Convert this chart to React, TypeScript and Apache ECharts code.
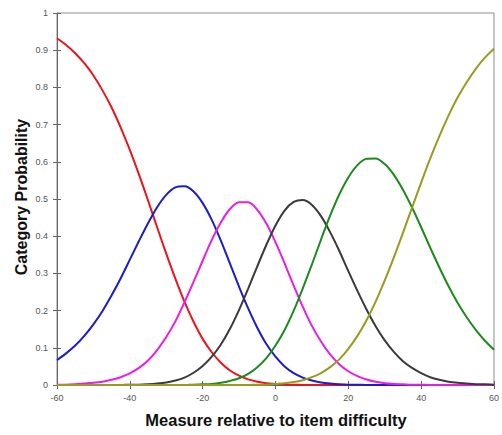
import React, { useEffect, useRef } from "react";
import * as echarts from "echarts";

const xs = [
  -60, -57.5, -55, -52.5, -50, -47.5, -45, -42.5, -40, -37.5, -35, -32.5, -30, -27.5, -25, -22.5, -20, -17.5, -15, -12.5,
  -10, -7.5, -5, -2.5, 0, 2.5, 5, 7.5, 10, 12.5, 15, 17.5, 20, 22.5, 25, 27.5, 30, 32.5, 35, 37.5, 40, 42.5, 45, 47.5,
  50, 52.5, 55, 57.5, 60,
];

const cat0 = [
  0.932, 0.914, 0.892, 0.865, 0.832, 0.792, 0.746, 0.692, 0.632, 0.566, 0.496, 0.424, 0.353, 0.286, 0.224, 0.17, 0.124,
  0.088, 0.06, 0.039, 0.025, 0.015, 0.009, 0.005, 0.003, 0.001, 0.001, 0, 0, 0, 0, 0, 0, 0, 0, 0, 0, 0, 0, 0, 0, 0, 0,
  0, 0, 0, 0, 0, 0,
];
const cat1 = [
  0.067, 0.085, 0.106, 0.132, 0.163, 0.199, 0.241, 0.287, 0.337, 0.387, 0.435, 0.478, 0.511, 0.531, 0.534, 0.52, 0.489,
  0.444, 0.388, 0.326, 0.264, 0.206, 0.154, 0.11, 0.076, 0.05, 0.032, 0.02, 0.012, 0.007, 0.004, 0.002, 0.001, 0.001, 0,
  0, 0, 0, 0, 0, 0, 0, 0, 0, 0, 0, 0, 0, 0,
];
const cat2 = [
  0.001, 0.001, 0.002, 0.004, 0.006, 0.009, 0.014, 0.021, 0.031, 0.046, 0.066, 0.094, 0.129, 0.171, 0.222, 0.277, 0.334,
  0.39, 0.437, 0.473, 0.491, 0.491, 0.471, 0.434, 0.384, 0.327, 0.267, 0.21, 0.159, 0.117, 0.082, 0.056, 0.037, 0.024,
  0.015, 0.009, 0.005, 0.003, 0.002, 0.001, 0.001, 0, 0, 0, 0, 0, 0, 0, 0,
];
const cat3 = [
  0, 0, 0, 0, 0, 0, 0, 0, 0.001, 0.001, 0.002, 0.004, 0.007, 0.012, 0.02, 0.033, 0.051, 0.076, 0.109, 0.151, 0.202,
  0.259, 0.319, 0.377, 0.429, 0.469, 0.492, 0.497, 0.484, 0.454, 0.411, 0.361, 0.306, 0.253, 0.203, 0.158, 0.12, 0.089,
  0.064, 0.046, 0.032, 0.021, 0.014, 0.009, 0.006, 0.004, 0.002, 0.002, 0.001,
];
const cat4 = [
  0, 0, 0, 0, 0, 0, 0, 0, 0, 0, 0, 0, 0, 0, 0, 0.001, 0.002, 0.003, 0.006, 0.011, 0.018, 0.03, 0.048, 0.072, 0.106,
  0.148, 0.2, 0.26, 0.324, 0.391, 0.455, 0.512, 0.558, 0.591, 0.608, 0.609, 0.594, 0.565, 0.525, 0.477, 0.424, 0.369,
  0.316, 0.266, 0.221, 0.182, 0.148, 0.119, 0.095,
];
const cat5 = [
  0, 0, 0, 0, 0, 0, 0, 0, 0, 0, 0, 0, 0, 0, 0, 0, 0, 0, 0, 0, 0, 0, 0.001, 0.001, 0.003, 0.005, 0.008, 0.013, 0.021,
  0.032, 0.048, 0.069, 0.097, 0.132, 0.174, 0.224, 0.281, 0.343, 0.409, 0.477, 0.544, 0.609, 0.669, 0.724, 0.773, 0.814,
  0.85, 0.88, 0.904,
];

const seriesList = [cat0, cat1, cat2, cat3, cat4, cat5];
const colors = ["#e8161c", "#1c1cc8", "#e61ee6", "#3a3a3a", "#1e8a1e", "#9a9a20"];

const xTitle = "Measure relative to item difficulty";
const yTitle = "Category Probability";

export default function App() {
  const ref = useRef<HTMLDivElement>(null);
  useEffect(() => {
    if (!ref.current) return;
    const chart = echarts.init(ref.current, undefined, { renderer: "svg" });
    const labelStyle = { fontSize: 9, color: "#555", fontFamily: "Liberation Sans, Arial, sans-serif" };
    chart.setOption({
      animation: false,
      backgroundColor: "#ffffff",
      grid: { left: 57, right: 7, top: 13, bottom: 50, show: true, borderColor: "#8c8c8c", borderWidth: 1 },
      xAxis: [
        {
          type: "value", min: -60, max: 60, interval: 20,
          axisLine: { show: true, onZero: false, lineStyle: { color: "#666" } },
          axisTick: { show: true, length: 4, lineStyle: { color: "#666" } },
          axisLabel: { ...labelStyle, margin: 8 },
          splitLine: { show: false },
        },
        {
          type: "value", min: -60, max: 60, interval: 20, position: "bottom", offset: 0,
          axisLine: { show: false, onZero: false },
          axisTick: { show: true, inside: true, length: 4, lineStyle: { color: "#666" } },
          axisLabel: { show: false },
          splitLine: { show: false },
        },
      ],
      yAxis: [
        {
          type: "value", min: 0, max: 1, interval: 0.1,
          axisLine: { show: true, onZero: false, lineStyle: { color: "#666" } },
          axisTick: { show: true, length: 4, lineStyle: { color: "#666" } },
          axisLabel: { ...labelStyle, margin: 9 },
          splitLine: { show: false },
        },
        {
          type: "value", min: 0, max: 1, interval: 0.1, position: "left", offset: 0,
          axisLine: { show: false, onZero: false },
          axisTick: { show: true, inside: true, length: 4, lineStyle: { color: "#666" } },
          axisLabel: { show: false },
          splitLine: { show: false },
        },
      ],
      graphic: [
        {
          type: "text", x: 276, y: 420,
          style: {
            text: xTitle, fontSize: 16.5, fontWeight: "bold",
            fontFamily: "Liberation Sans, Arial, sans-serif", fill: "#111",
            align: "center", verticalAlign: "middle",
          },
        },
        {
          type: "text", x: 21, y: 197, rotation: Math.PI / 2,
          style: {
            text: yTitle, fontSize: 16, fontWeight: "bold",
            fontFamily: "Liberation Sans, Arial, sans-serif", fill: "#111",
            align: "center", verticalAlign: "middle",
          },
        },
      ],
      series: seriesList.map((vals, i) => ({
        type: "line",
        xAxisIndex: 0,
        yAxisIndex: 0,
        data: xs.map((x, j) => [x, vals[j]]),
        smooth: 0.3,
        showSymbol: false,
        symbol: "none",
        lineStyle: { color: colors[i], width: 2 },
        itemStyle: { color: colors[i] },
      })),
    });
    return () => chart.dispose();
  }, []);
  return <div ref={ref} style={{ position: "fixed", left: 0, top: 0, width: 502, height: 435 }} />;
}
